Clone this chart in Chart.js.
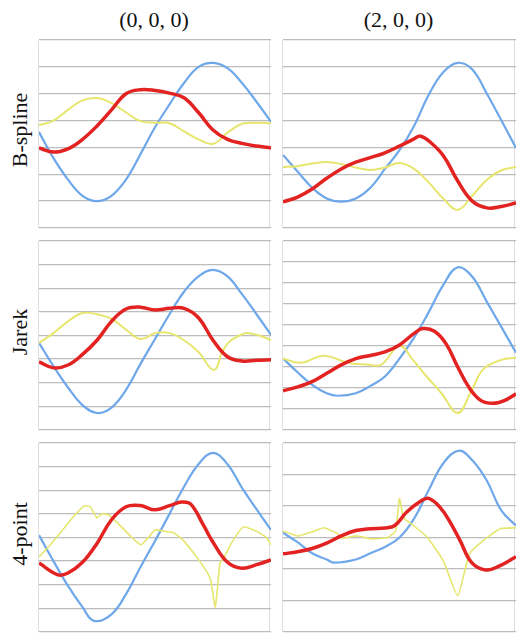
<!DOCTYPE html>
<html lang="en">
<head>
<meta charset="UTF-8">
<title>Subdivision curves</title>
<script src="https://cdn.jsdelivr.net/npm/chart.js"></script>
<style>
  body { margin: 0; background: #fff; width: 516px; height: 637px; overflow: hidden; position: relative; font-family: 'Liberation Serif', 'DejaVu Serif', serif; color: #111; }
  .col-title { position: absolute; top: 7px; font-size: 22px; text-align: center; }
  .row-title { position: absolute; left: 20px; font-size: 22px; transform: translate(-50%, -50%) rotate(-90deg); white-space: nowrap; }
  .panel { position: absolute; border-left: 1px solid #dedede; border-right: 1px solid #dedede; box-sizing: border-box; }
  .panel canvas { position: absolute; left: 0; top: -1px; }
</style>
</head>
<body>

<script>
// column / row labels
const columns = ['(0, 0, 0)', '(2, 0, 0)'];
const rows = ['B-spline', 'Jarek', '4-point'];

// number of grid steps on the y axis of each panel [row][col]
const yMax = [[7, 7], [8, 9], [8, 6]];

// x runs 0..100 across each panel, values in grid units
const bspline0Blue = [[0,3.57],[6.25,2.6],[12.5,1.8],[18.75,1.2],[25,1.0],[31.25,1.2],[37.5,1.8],[43.75,2.75],[50,3.75],[56.25,4.6],[62.5,5.4],[68.75,6.0],[75,6.15],[81.25,5.95],[87.5,5.4],[93.75,4.7],[100,3.95]];
const bspline0Red = [[0,2.98],[6.25,2.83],[12.5,2.95],[18.75,3.3],[25,3.8],[31.25,4.4],[37.5,5.0],[43.75,5.15],[50,5.12],[56.25,5.02],[62.5,4.85],[68.75,4.3],[75,3.65],[81.25,3.3],[87.5,3.15],[93.75,3.05],[100,2.98]];
const bspline0Yellow = [[0,3.83],[6.25,4.0],[12.5,4.4],[18.75,4.75],[25,4.84],[31.25,4.65],[37.5,4.3],[43.75,3.98],[50,3.92],[56.25,3.9],[62.5,3.6],[68.75,3.3],[75,3.13],[81.25,3.55],[87.5,3.88],[93.75,3.92],[100,3.9]];

const bspline2Blue = [[0,2.72],[6.25,2.1],[12.5,1.5],[18.75,1.1],[25,0.98],[31.25,1.1],[37.5,1.5],[43.75,2.2],[50,2.9],[56.25,3.8],[62.5,4.95],[68.75,5.8],[75,6.15],[81.25,5.9],[87.5,5.0],[93.75,4.0],[100,2.98]];
const bspline2Red = [[0,0.97],[6.25,1.15],[12.5,1.45],[18.75,1.85],[25,2.2],[31.25,2.45],[37.5,2.62],[43.75,2.8],[50,3.05],[56.25,3.32],[59,3.42],[62.5,3.25],[68.75,2.7],[75,1.75],[81.25,1.0],[87.5,0.75],[93.75,0.8],[100,0.93]];
const bspline2Yellow = [[0,2.27],[6.25,2.3],[12.5,2.4],[18.75,2.46],[25,2.38],[31.25,2.25],[37.5,2.16],[43.75,2.25],[50,2.42],[56.25,2.2],[62.5,1.7],[68.75,1.1],[75,0.68],[81.25,1.2],[87.5,1.8],[93.75,2.15],[100,2.27]];

const jarek0Blue = [[0,3.69],[6.25,2.7],[12.5,1.8],[18.75,1.05],[25,0.72],[31.25,0.95],[37.5,1.7],[43.75,2.8],[50,3.85],[56.25,4.9],[62.5,5.85],[68.75,6.5],[75,6.78],[81.25,6.5],[87.5,5.75],[93.75,4.9],[100,4.03]];
const jarek0Red = [[0,2.88],[6.25,2.63],[12.5,2.75],[18.75,3.2],[25,3.8],[31.25,4.6],[37.5,5.12],[43.75,5.2],[50,5.08],[56.25,5.15],[62.5,5.15],[68.75,4.75],[75,3.8],[81.25,3.1],[87.5,2.92],[93.75,2.95],[100,2.97]];
const jarek0Yellow = [[0,3.69],[6.25,4.1],[12.5,4.6],[18.75,4.95],[25,4.9],[31.25,4.7],[37.5,4.25],[43.75,3.85],[50,4.1],[56.25,4.1],[62.5,3.8],[68.75,3.3],[75.4,2.54],[79,3.3],[82,3.73],[87.5,4.05],[90.5,4.1],[95,4.0],[100,3.81]];

const jarek2Blue = [[0,3.4],[6.25,2.75],[12.5,2.15],[18.75,1.75],[23.5,1.63],[31.25,1.75],[37.5,2.1],[43.75,2.55],[50,3.4],[56.25,4.4],[62.5,5.6],[68.75,6.9],[75,7.75],[81.25,7.3],[87.5,6.1],[93.75,4.9],[100,3.68]];
const jarek2Red = [[0,1.87],[6.25,2.05],[12.5,2.3],[18.75,2.7],[25,3.1],[31.25,3.4],[37.5,3.55],[43.75,3.72],[50,4.05],[56.25,4.6],[60,4.83],[65,4.7],[70,4.1],[75,3.0],[80,2.0],[85,1.4],[90,1.27],[95,1.4],[100,1.72]];
const jarek2Yellow = [[0,3.4],[7.7,3.2],[17.5,3.54],[27.8,3.2],[36,3.12],[42,3.1],[50,4.0],[56,3.3],[62,2.5],[68,1.75],[75,0.81],[81,1.9],[86,2.9],[94,3.35],[100,3.44]];

const point0Blue = [[0,4.1],[6.25,3.0],[12.5,1.95],[18.75,1.05],[23.7,0.47],[31.25,0.75],[37.5,1.6],[43.75,2.75],[50,3.85],[56.25,5.0],[62.5,6.15],[68.75,7.1],[75,7.58],[81.25,7.1],[87.5,6.1],[93.75,5.2],[100,4.32]];
const point0Red = [[0,2.92],[8.2,2.42],[12.5,2.5],[18.75,2.95],[25,3.75],[31.25,4.75],[37.5,5.3],[43.75,5.35],[50,5.17],[56.25,5.35],[61.6,5.5],[65.5,5.4],[71,4.5],[75,3.8],[81.25,2.95],[87.5,2.7],[93.75,2.85],[100,3.05]];
const point0Yellow = [[0,3.17],[5,3.7],[10,4.3],[15,4.9],[19.5,5.34],[22,5.3],[25,4.83],[27,5.0],[30,4.96],[35,4.5],[40,4.0],[44,3.69],[48,4.1],[50,4.32],[55,4.25],[58,4.2],[62,3.9],[68,3.17],[72,2.6],[74,2.2],[76,1.06],[78,2.9],[80,3.2],[83,3.77],[88,4.45],[94,4.25],[98,4.0],[100,3.69]];

const point2Blue = [[0,3.15],[6.25,2.85],[12.5,2.5],[18.75,2.3],[22,2.2],[31.25,2.3],[37.5,2.5],[43.75,2.7],[50,3.0],[56.25,3.6],[62.5,4.5],[68.75,5.35],[75.5,5.76],[81.25,5.45],[87.5,4.8],[93.75,3.85],[100,3.38]];
const point2Red = [[0,2.48],[6.25,2.55],[12.5,2.65],[18.75,2.82],[25,3.05],[31.25,3.22],[37.5,3.28],[43.75,3.3],[48,3.38],[53,3.8],[59,4.15],[62.5,4.24],[67.5,3.95],[72,3.45],[76,2.9],[81,2.2],[87,1.97],[93,2.1],[100,2.39]];
const point2Yellow = [[0,3.21],[6.4,3.05],[13.2,3.2],[17.5,3.31],[23.5,3.12],[25,2.98],[32,3.05],[37.6,2.96],[44.9,3.0],[48.3,3.21],[50,4.24],[51.7,3.63],[56,3.38],[62,3.0],[68.8,2.26],[75,1.15],[80,2.48],[85.9,2.9],[93.2,3.28],[100,3.31]];

const panelSeries = [
  [[bspline0Blue, bspline0Red, bspline0Yellow], [bspline2Blue, bspline2Red, bspline2Yellow]],
  [[jarek0Blue, jarek0Red, jarek0Yellow], [jarek2Blue, jarek2Red, jarek2Yellow]],
  [[point0Blue, point0Red, point0Yellow], [point2Blue, point2Red, point2Yellow]]
];

const colLeft = [38, 282];
const colWidth = [232, 233];
const rowTop = [40, 241, 443];
const rowHeight = [188, 189, 189];

columns.forEach((name, c) => {
  const d = document.createElement('div');
  d.className = 'col-title';
  d.style.left = colLeft[c] + 'px';
  d.style.width = colWidth[c] + 'px';
  d.textContent = name;
  document.body.appendChild(d);
});

rows.forEach((name, r) => {
  const d = document.createElement('div');
  d.className = 'row-title';
  d.style.top = (rowTop[r] + rowHeight[r] / 2 - 4) + 'px';
  d.textContent = name;
  document.body.appendChild(d);
});

const panel = (r, c) => {
  const wrap = document.createElement('div');
  wrap.className = 'panel';
  wrap.style.left = colLeft[c] + 'px';
  wrap.style.top = rowTop[r] + 'px';
  wrap.style.width = colWidth[c] + 'px';
  wrap.style.height = rowHeight[r] + 'px';
  const canvas = document.createElement('canvas');
  canvas.width = colWidth[c];
  canvas.height = rowHeight[r] + 2;
  wrap.appendChild(canvas);
  document.body.appendChild(wrap);

  const [blue, red, yellow] = panelSeries[r][c];
  const jagged = r === 2;

  return new Chart(canvas.getContext('2d'), {
    type: 'line',
    data: {
      datasets: [
        { data: red, borderColor: '#e32222', borderWidth: 3.5, order: 1 },
        { data: yellow, borderColor: '#e6e66e', borderWidth: jagged ? 1.6 : 2, order: 2, tension: jagged ? 0.15 : 0.4 },
        { data: blue, borderColor: '#6ea7ea', borderWidth: 2.2, order: 3 }
      ]
    },
    options: {
      responsive: false,
      animation: false,
      layout: { padding: { top: 1, bottom: 1, left: 0, right: 0 } },
      elements: { point: { radius: 0 }, line: { tension: 0.4, capBezierPoints: true } },
      plugins: { legend: { display: false }, tooltip: { enabled: false } },
      scales: {
        x: { type: 'linear', min: 0, max: 100, display: false },
        y: {
          min: 0, max: yMax[r][c],
          ticks: { display: false, stepSize: 1 },
          grid: { color: '#bcbcbc', lineWidth: 1.3, drawTicks: false },
          border: { display: false }
        }
      }
    }
  });
};

for (let r = 0; r < rows.length; r++) {
  for (let c = 0; c < columns.length; c++) {
    panel(r, c);
  }
}
</script>
</body>
</html>
